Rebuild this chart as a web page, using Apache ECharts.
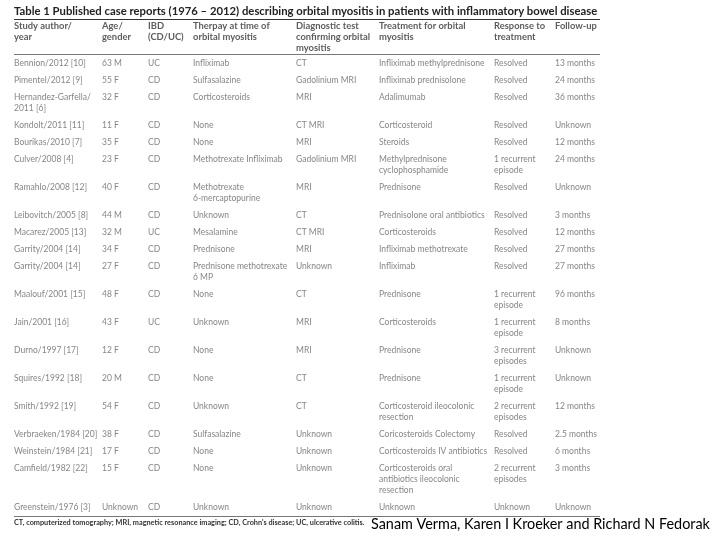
<!DOCTYPE html>
<html>
<head>
<meta charset="utf-8">
<script src="https://cdn.jsdelivr.net/npm/echarts@6/dist/echarts.min.js"></script>
<style>html,body{margin:0;padding:0;background:#fff}#c{width:720px;height:540px}</style>
</head>
<body>
<div id="c"></div>
<script>
// ---- Data ----
const tableTitle = 'Table 1 Published case reports (1976 \u2013 2012) describing orbital myositis in patients with inflammatory bowel disease';
const headers = ['Study author/\nyear', 'Age/\ngender', 'IBD\n(CD/UC)', 'Therpay at time of\norbital myositis', 'Diagnostic test\nconfirming orbital\nmyositis', 'Treatment for orbital\nmyositis', 'Response to\ntreatment', 'Follow-up'];
const studies = ['Bennion/2012 [10]', 'Pimentel/2012 [9]', 'Hernandez-Garfella/\n2011 [6]', 'Kondolt/2011 [11]', 'Bourikas/2010 [7]', 'Culver/2008 [4]', 'Ramahlo/2008 [12]', 'Leibovitch/2005 [8]', 'Macarez/2005 [13]', 'Garrity/2004 [14]', 'Garrity/2004 [14]', 'Maalouf/2001 [15]', 'Jain/2001 [16]', 'Durno/1997 [17]', 'Squires/1992 [18]', 'Smith/1992 [19]', 'Verbraeken/1984 [20]', 'Weinstein/1984 [21]', 'Camfield/1982 [22]', 'Greenstein/1976 [3]'];
const ageGender = ['63 M', '55 F', '32 F', '11 F', '35 F', '23 F', '40 F', '44 M', '32 M', '34 F', '27 F', '48 F', '43 F', '12 F', '20 M', '54 F', '38 F', '17 F', '15 F', 'Unknown'];
const ibd = ['UC', 'CD', 'CD', 'CD', 'CD', 'CD', 'CD', 'CD', 'UC', 'CD', 'CD', 'CD', 'UC', 'CD', 'CD', 'CD', 'CD', 'CD', 'CD', 'CD'];
const therapy = ['Infliximab', 'Sulfasalazine', 'Corticosteroids', 'None', 'None', 'Methotrexate Infliximab', 'Methotrexate\n6-mercaptopurine', 'Unknown', 'Mesalamine', 'Prednisone', 'Prednisone methotrexate\n6 MP', 'None', 'Unknown', 'None', 'None', 'Unknown', 'Sulfasalazine', 'None', 'None', 'Unknown'];
const diagnostic = ['CT', 'Gadolinium MRI', 'MRI', 'CT MRI', 'MRI', 'Gadolinium MRI', 'MRI', 'CT', 'CT MRI', 'MRI', 'Unknown', 'CT', 'MRI', 'MRI', 'CT', 'CT', 'Unknown', 'Unknown', 'Unknown', 'Unknown'];
const treatment = ['Infliximab methylprednisone', 'Infliximab prednisolone', 'Adalimumab', 'Corticosteroid', 'Steroids', 'Methylprednisone\ncyclophosphamide', 'Prednisone', 'Prednisolone oral antibiotics', 'Corticosteroids', 'Infliximab methotrexate', 'Infliximab', 'Prednisone', 'Corticosteroids', 'Prednisone', 'Prednisone', 'Corticosteroid ileocolonic\nresection', 'Coricosteroids Colectomy', 'Corticosteroids IV antibiotics', 'Corticosteroids oral\nantibiotics ileocolonic\nresection', 'Unknown'];
const response = ['Resolved', 'Resolved', 'Resolved', 'Resolved', 'Resolved', '1 recurrent\nepisode', 'Resolved', 'Resolved', 'Resolved', 'Resolved', 'Resolved', '1 recurrent\nepisode', '1 recurrent\nepisode', '3 recurrent\nepisodes', '1 recurrent\nepisode', '2 recurrent\nepisodes', 'Resolved', 'Resolved', '2 recurrent\nepisodes', 'Unknown'];
const followUp = ['13 months', '24 months', '36 months', 'Unknown', '12 months', '24 months', 'Unknown', '3 months', '12 months', '27 months', '27 months', '96 months', '8 months', 'Unknown', 'Unknown', '12 months', '2.5 months', '6 months', '3 months', 'Unknown'];
const footnote = "CT, computerized tomography; MRI, magnetic resonance imaging; CD, Crohn's disease; UC, ulcerative colitis.";
const credit = 'Sanam Verma, Karen I Kroeker and Richard N Fedorak';

// ---- Layout (not data) ----
const columnsData = [studies, ageGender, ibd, therapy, diagnostic, treatment, response, followUp];
const colX = [14, 102, 148, 193, 296, 379, 494, 555];
const tableLeft = 14, tableRight = 600;
const lineH = 11, rowPad = 6;
const headerTop = 20.5, firstRowTop = 58;
const ruleTitle = 19.5, ruleHeader = 54, ruleBottom = 516;

const nLines = s => s.split('\n').length;
const bodyPoints = [];
let y = firstRowTop;
for (let r = 0; r < studies.length; r++) {
  let maxL = 1;
  columnsData.forEach((col, c) => {
    bodyPoints.push({ value: [colX[c], y], text: col[r] });
    maxL = Math.max(maxL, nLines(col[r]));
  });
  y += rowPad + lineH * maxL;
}
const headerPoints = headers.map((h, c) => ({ value: [colX[c], headerTop], text: h }));

const chart = echarts.init(document.getElementById('c'), null, { renderer: 'canvas' });
chart.setOption({
  backgroundColor: '#ffffff',
  animation: false,
  title: [
    { text: tableTitle, left: 14, top: 6, padding: 0, textStyle: { fontFamily: 'Lato', fontWeight: 'bold', fontSize: 11.3, color: '#222' } },
    { text: footnote, left: 14, top: 519, padding: 0, textStyle: { fontFamily: 'Lato', fontWeight: 'bold', fontSize: 7.3, color: '#333' } },
    { text: credit, left: 371, top: 517, padding: 0, textStyle: { fontFamily: 'Lato', fontWeight: 'normal', fontSize: 14.4, color: '#000' } }
  ],
  grid: { left: 0, right: 0, top: 0, bottom: 0 },
  xAxis: { type: 'value', min: 0, max: 720, show: false },
  yAxis: { type: 'value', min: 0, max: 540, inverse: true, show: false },
  series: [
    {
      type: 'scatter', symbolSize: 0.01, silent: true,
      data: headerPoints,
      label: {
        show: true, position: [0, 0], align: 'left', verticalAlign: 'top',
        formatter: p => p.data.text,
        fontFamily: 'Lato', fontWeight: 'bold', fontSize: 9.4, lineHeight: 10.8, color: '#333'
      },
      markLine: {
        symbol: 'none', silent: true, label: { show: false },
        data: [
          [{ coord: [tableLeft, ruleTitle], lineStyle: { color: '#333', width: 1, type: 'solid' } }, { coord: [tableRight, ruleTitle] }],
          [{ coord: [tableLeft, ruleHeader], lineStyle: { color: '#555', width: 0.8, type: 'solid' } }, { coord: [tableRight, ruleHeader] }],
          [{ coord: [tableLeft, ruleBottom], lineStyle: { color: '#777', width: 1.2, type: 'solid' } }, { coord: [tableRight, ruleBottom] }]
        ]
      }
    },
    {
      type: 'scatter', symbolSize: 0.01, silent: true,
      data: bodyPoints,
      label: {
        show: true, position: [0, 0], align: 'left', verticalAlign: 'top',
        formatter: p => p.data.text,
        fontFamily: 'Lato', fontSize: 8.5, lineHeight: 11, color: '#666'
      }
    }
  ]
});
</script>
</body>
</html>
